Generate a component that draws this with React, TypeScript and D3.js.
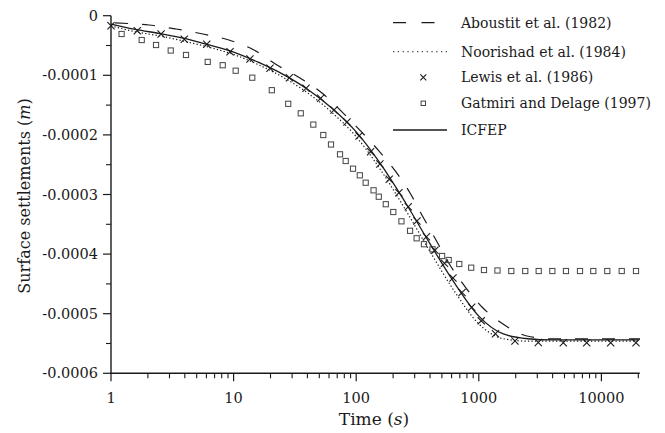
import React from "react";
import * as d3 from "d3";

// ---------- data (values in units of 1e-4 m) ----------
const aboustitT = [1.08, 2.04, 3.39, 5.62, 9.16, 14.66, 22.6, 34.8, 52.6, 88.9, 150.7, 211.3, 274.8, 350.8, 447.7, 582.1, 787.0, 1062, 1574, 2472, 4102, 20660];
const aboustitV = [-0.122, -0.156, -0.223, -0.307, -0.408, -0.576, -0.827, -1.045, -1.297, -1.75, -2.253, -2.622, -2.975, -3.378, -3.763, -4.183, -4.569, -4.888, -5.173, -5.374, -5.424, -5.424];

const noorishadT = [1, 1.585, 2.512, 3.981, 6.31, 10, 15.85, 25.12, 39.81, 63.1, 100, 158.5, 251.2, 398.1, 631, 1000, 1585, 2512, 20000];
const noorishadV = [-0.17, -0.27, -0.34, -0.43, -0.53, -0.65, -0.82, -1.03, -1.29, -1.62, -2.03, -2.59, -3.25, -3.95, -4.62, -5.17, -5.42, -5.46, -5.46];

const lewisT = [1, 1.64, 2.56, 3.96, 6.04, 9.35, 13.6, 19.8, 28.5, 39, 51.3, 65.9, 84.1, 105.4, 131, 156, 186, 223, 266, 313, 374, 439, 525, 616, 730, 875, 1047, 1367, 1972, 3055, 4890, 7590, 11900, 19150];
const lewisV = [-0.17, -0.252, -0.307, -0.396, -0.48, -0.604, -0.727, -0.883, -1.04, -1.218, -1.386, -1.582, -1.784, -2.018, -2.282, -2.488, -2.745, -2.97, -3.205, -3.445, -3.708, -3.936, -4.154, -4.401, -4.644, -4.893, -5.12, -5.336, -5.458, -5.483, -5.487, -5.487, -5.487, -5.487];

const gatmiriT = [1.22, 1.78, 2.33, 3.07, 4.09, 6.15, 8.15, 10.4, 14.2, 20.5, 27.9, 35.3, 44.7, 53.9, 62.3, 73.8, 82.1, 94.2, 107, 119.5, 138.6, 152.8, 174.3, 200.7, 234, 275, 311, 357, 419, 502, 568, 693, 867, 1102, 1420, 1841, 2393, 3080, 3980, 5140, 6690, 8590, 11170, 14650, 19150];
const gatmiriV = [-0.307, -0.408, -0.492, -0.584, -0.659, -0.775, -0.831, -0.923, -1.04, -1.25, -1.478, -1.638, -1.827, -2.002, -2.161, -2.326, -2.438, -2.567, -2.678, -2.802, -2.93, -3.037, -3.163, -3.294, -3.45, -3.609, -3.735, -3.834, -3.919, -4.032, -4.099, -4.166, -4.228, -4.267, -4.275, -4.284, -4.284, -4.284, -4.284, -4.284, -4.284, -4.284, -4.284, -4.284, -4.284];

const icfepT = [1, 1.585, 2.512, 3.981, 6.31, 10, 15.85, 25.12, 39.81, 63.1, 100, 158.5, 251.2, 398.1, 631, 1000, 1585, 2512, 3981, 20000];
const icfepV = [-0.14, -0.23, -0.30, -0.38, -0.49, -0.61, -0.78, -0.98, -1.23, -1.55, -1.95, -2.49, -3.13, -3.82, -4.48, -5.04, -5.34, -5.42, -5.44, -5.44];

const xMajorTicks = [1, 10, 100, 1000, 10000];
const xTickLabels = ["1", "10", "100", "1000", "10000"];
const yMajorTicks = [0, -0.0001, -0.0002, -0.0003, -0.0004, -0.0005, -0.0006];
const yTickLabels = ["0", "-0.0001", "-0.0002", "-0.0003", "-0.0004", "-0.0005", "-0.0006"];
const legendLabels = ["Aboustit et al. (1982)", "Noorishad et al. (1984)", "Lewis et al. (1986)", "Gatmiri and Delage (1997)", "ICFEP"];

const W = 665, H = 433;
const FONT = "'DejaVu Serif', serif";
const INK = "#1a1a1a";

export default function App() {
  const x = d3.scaleLog().domain([1, 20000]).range([111, 111 + Math.log10(20000) * 122.6]);
  const y = d3.scaleLinear().domain([-0.0006, 0]).range([373.3, 15.7]);

  const mk = (ts: number[], vs: number[]) => ts.map((t, i) => [t, vs[i] * 1e-4] as [number, number]);
  const line = d3.line<[number, number]>().x(d => x(d[0])).y(d => y(d[1])).curve(d3.curveMonotoneX);

  const xMinor: number[] = [];
  for (let dec = 1; dec <= 10000; dec *= 10) {
    for (let k = 2; k <= 9; k++) { const v = dec * k; if (v <= 20000) xMinor.push(v); }
  }
  const yMinor = d3.range(0, 6).map(i => -0.00005 - i * 0.0001);

  const cross = (cx: number, cy: number, s: number, key: string) => (
    <path key={key} d={`M${cx - s},${cy - s}L${cx + s},${cy + s}M${cx - s},${cy + s}L${cx + s},${cy - s}`} stroke={INK} strokeWidth={1.1} fill="none" />
  );

  const x0 = 111, xEnd = x(20000) + 1.5, yBot = 373.3, yTop = 15.7;
  const legX1 = 393, legX2 = 447, legText = 461;
  const legY = [22.7, 51.7, 77.3, 103.3, 130];

  return (
    <svg width={W} height={H} style={{ display: "block", position: "absolute", left: 0, top: 0 }} fontFamily={FONT}>
      <rect width={W} height={H} fill="#fff" />
      {/* axes */}
      <line x1={x0} x2={x0} y1={yTop} y2={yBot} stroke={INK} strokeWidth={1.4} />
      <line x1={x0 - 0.7} x2={xEnd} y1={yBot} y2={yBot} stroke={INK} strokeWidth={1.4} />
      {xMajorTicks.map((t, i) => (
        <g key={"xt" + i}>
          <line x1={x(t)} x2={x(t)} y1={yBot} y2={yBot + 8} stroke={INK} strokeWidth={1.2} />
          <text x={x(t)} y={403} textAnchor="middle" fontSize={14.5} fill={INK}>{xTickLabels[i]}</text>
        </g>
      ))}
      {xMinor.map((t, i) => (
        <line key={"xm" + i} x1={x(t)} x2={x(t)} y1={yBot} y2={yBot + 5} stroke={INK} strokeWidth={1.1} />
      ))}
      {yMajorTicks.map((v, i) => (
        <g key={"yt" + i}>
          <line x1={x0 - 8} x2={x0} y1={y(v)} y2={y(v)} stroke={INK} strokeWidth={1.2} />
          <text x={98} y={y(v) + 5} textAnchor="end" fontSize={14.5} fill={INK}>{yTickLabels[i]}</text>
        </g>
      ))}
      {yMinor.map((v, i) => (
        <line key={"ym" + i} x1={x0 - 5} x2={x0} y1={y(v)} y2={y(v)} stroke={INK} strokeWidth={1.1} />
      ))}
      <text x={374} y={425} textAnchor="middle" fontSize={17} fill={INK}>Time (<tspan fontStyle="italic">s</tspan>)</text>
      <text transform="translate(30,196) rotate(-90)" textAnchor="middle" fontSize={16} fill={INK}>
        Surface settlements (<tspan fontStyle="italic">m</tspan>)
      </text>

      {/* series */}
      <path d={line(mk(aboustitT, aboustitV)) || ""} fill="none" stroke={INK} strokeWidth={1.2} strokeDasharray="13,14" />
      <path d={line(mk(noorishadT, noorishadV)) || ""} fill="none" stroke={INK} strokeWidth={1.2} strokeDasharray="1.3,2.2" />
      <path d={line(mk(icfepT, icfepV)) || ""} fill="none" stroke={INK} strokeWidth={1.3} />
      {mk(gatmiriT, gatmiriV).map((d, i) => (
        <rect key={"g" + i} x={x(d[0]) - 2.6} y={y(d[1]) - 2.6} width={5.2} height={5.2} fill="none" stroke="#444" strokeWidth={1} />
      ))}
      {mk(lewisT, lewisV).map((d, i) => cross(x(d[0]), y(d[1]), 3.6, "l" + i))}

      {/* legend */}
      <line x1={legX1} x2={legX2} y1={legY[0]} y2={legY[0]} stroke={INK} strokeWidth={1.2} strokeDasharray="13,15.5" />
      <line x1={legX1} x2={legX2} y1={legY[1]} y2={legY[1]} stroke={INK} strokeWidth={1} strokeDasharray="1.3,3.5" />
      {cross(423.3, legY[2], 3, "legx")}
      <rect x={423.3 - 2.2} y={legY[3] - 2.2} width={4.4} height={4.4} fill="none" stroke="#444" strokeWidth={1} />
      <line x1={legX1} x2={legX2} y1={legY[4]} y2={legY[4]} stroke={INK} strokeWidth={1.3} />
      {legendLabels.map((s, i) => (
        <text key={"lt" + i} x={legText} y={legY[i] + 5} fontSize={14} fill={INK}>{s}</text>
      ))}
    </svg>
  );
}
